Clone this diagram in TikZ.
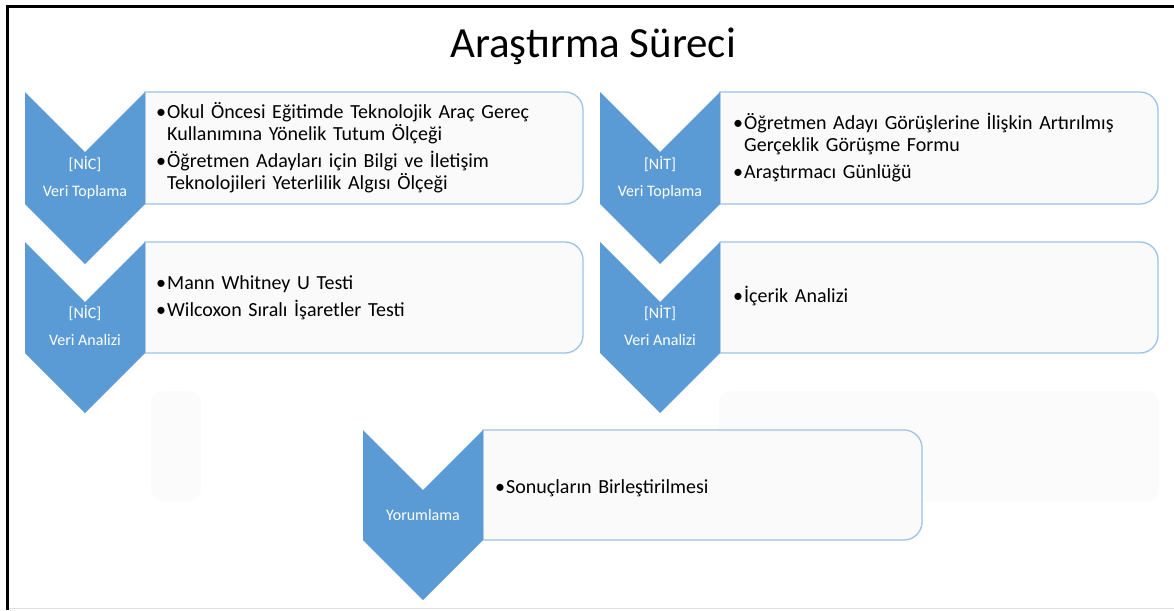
\documentclass[tikz,border=0pt]{standalone}
\usepackage{fontspec}
\setmainfont{Carlito}
\definecolor{chevblue}{HTML}{5B9BD5}
\definecolor{boxline}{HTML}{9DC3E6}
\definecolor{boxfill}{HTML}{FAFAFA}
\definecolor{ghostfill}{HTML}{FBFBFB}
\newcommand{\bitem}[1]{\par\hangindent=11pt\hangafter=1\noindent\makebox[11pt][l]{\textbullet}#1\par}
\newcommand{\chevronat}[3]{% x, ytop, ybottom of body
  \fill[chevblue] (#1,#2) -- ++(60,60) -- ++(60,-60) -- (#1+120,#3) -- (#1+60,#3+60) -- (#1,#3) -- cycle;}
\newcommand{\listboxat}[4]{% xleft, ytop, xright, ybottom
  \draw[listbox] (#1,#2) -- (#3-18,#2) arc[start angle=-90,end angle=0,radius=18] -- (#3,#4-18) arc[start angle=0,end angle=90,radius=18] -- (#1,#4) -- cycle;}
\begin{document}
\begin{tikzpicture}[x=1pt,y=-1pt,
  listbox/.style={fill=boxfill,draw=boxline,line width=1.3pt},
  ghostbox/.style={fill=ghostfill,draw=none,rounded corners=12pt},
  chevtext/.style={text=white,font=\fontsize{16}{27}\selectfont,align=center,inner sep=0pt},
  itemtext/.style={anchor=west,inner sep=0pt,text width=#1,font=\fontsize{20}{21.5}\selectfont\setlength{\parskip}{6pt},align=left,text=black}]
\useasboundingbox (0,0) rectangle (1174,610);
\fill[white] (0,0) rectangle (1174,610);
% frame
\draw[line width=3pt] (7.5,610) -- (7.5,6.5) -- (1174,6.5);
\draw[black!12,line width=1.5pt] (9,608.5) -- (1174,608.5);
% title
\node (title) at (593,46) {\fontsize{43}{50}\selectfont Araştırma Süreci};
% ghost boxes
\fill[ghostbox] (151,391) rectangle (201,501);
\fill[ghostbox] (719,391) rectangle (1159,501);
% left column
\listboxat{145}{92}{583}{204}
\chevronat{25}{92}{204}
\listboxat{145}{242}{583}{353}
\chevronat{25}{242}{353}
% right column
\listboxat{720}{92}{1158}{204}
\chevronat{600}{92}{204}
\listboxat{720}{242}{1158}{353}
\chevronat{600}{242}{353}
% bottom
\listboxat{483}{430}{922}{540}
\chevronat{363}{430}{540}
% chevron labels
\node[chevtext] (c1) at (85,178) {[NİC]\\Veri Toplama};
\node[chevtext] (c2) at (85,326) {[NİC]\\Veri Analizi};
\node[chevtext] (c3) at (660,178) {[NİT]\\Veri Toplama};
\node[chevtext] (c4) at (660,326) {[NİT]\\Veri Analizi};
\node[chevtext] (c5) at (423,515) {Yorumlama};
% box texts
\node[itemtext=425pt] (t1) at (156,142) {\bitem{Okul Öncesi Eğitimde Teknolojik Araç Gereç\newline Kullanımına Yönelik Tutum Ölçeği}\bitem{Öğretmen Adayları için Bilgi ve İletişim\newline Teknolojileri Yeterlilik Algısı Ölçeği}};
\node[itemtext=425pt] (t2) at (156,291) {\bitem{Mann Whitney U Testi}\bitem{Wilcoxon Sıralı İşaretler Testi}};
\node[itemtext=425pt] (t3) at (733,142) {\bitem{Öğretmen Adayı Görüşlerine İlişkin Artırılmış\newline Gerçeklik Görüşme Formu}\bitem{Araştırmacı Günlüğü}};
\node[itemtext=425pt] (t4) at (733,290) {\bitem{İçerik Analizi}};
\node[itemtext=425pt] (t5) at (495,481) {\bitem{Sonuçların Birleştirilmesi}};
\end{tikzpicture}
\end{document}
